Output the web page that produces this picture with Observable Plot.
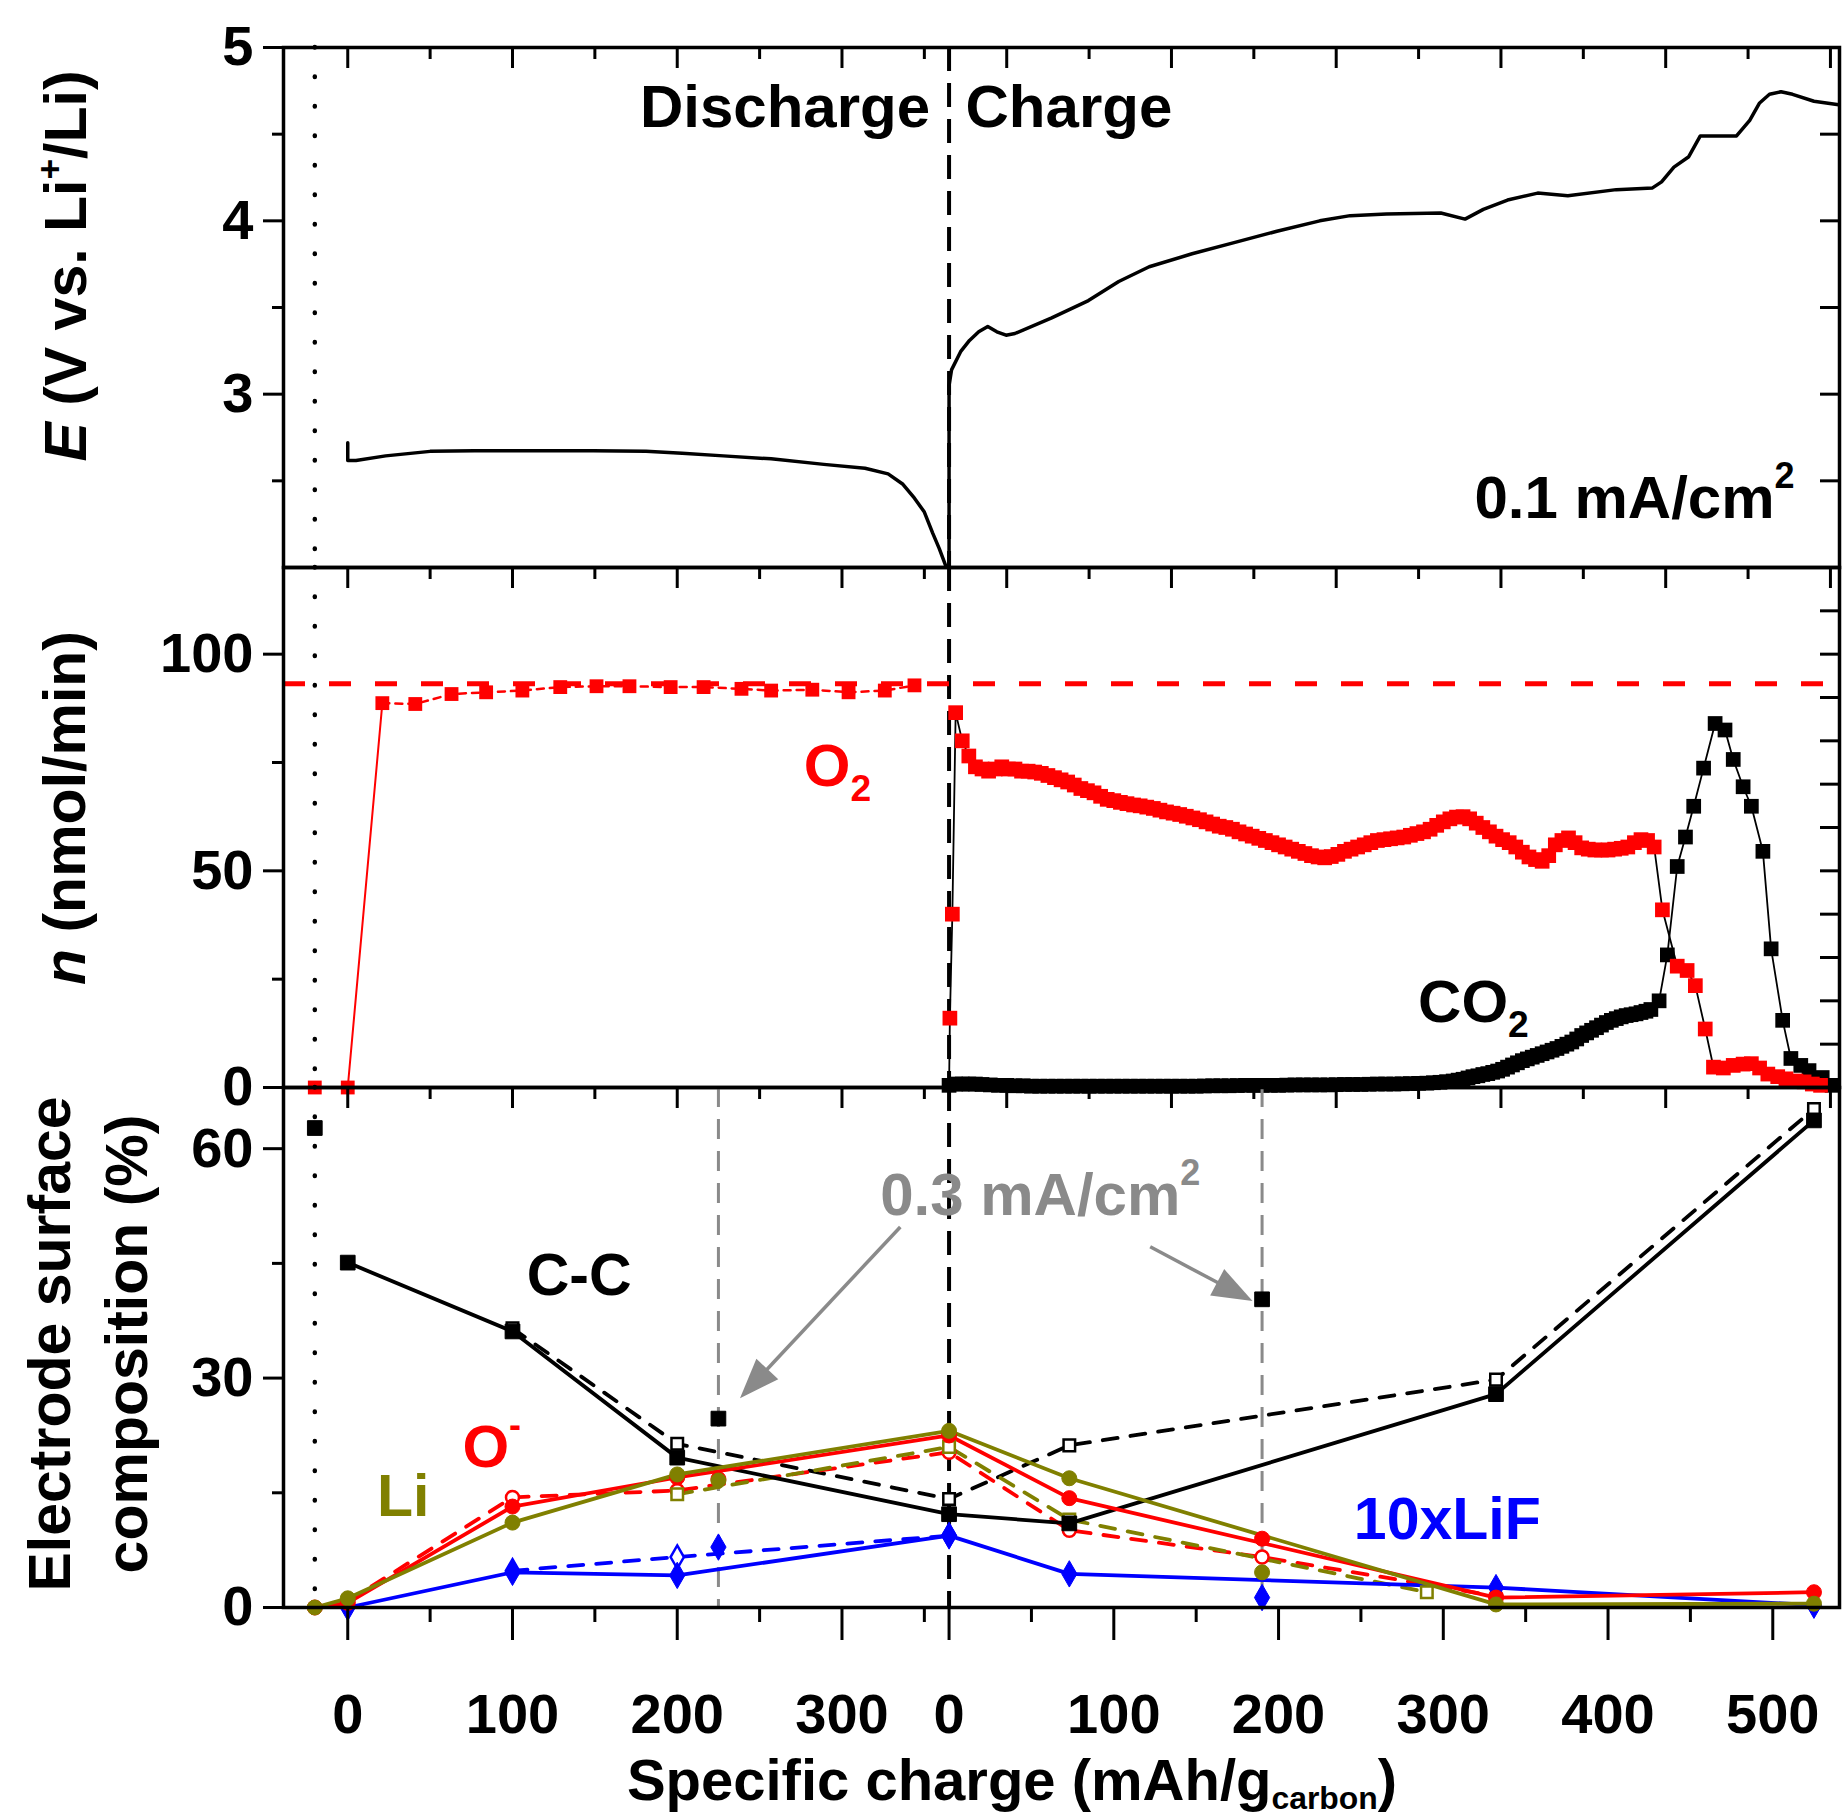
<!DOCTYPE html>
<html>
<head>
<meta charset="utf-8">
<script src="https://cdn.jsdelivr.net/npm/d3@7"></script>
<script src="https://cdn.jsdelivr.net/npm/@observablehq/plot@0.6"></script>
<style>
  html, body { margin: 0; padding: 0; background: #fff; overflow: hidden; }
  #chart { position: relative; width: 1845px; height: 1818px; }
  #chart svg { position: absolute; left: 0; top: 0; overflow: visible; max-width: none; }
</style>
</head>
<body>
<div id="chart"></div>
<script>
// ---------------- data ----------------
const CHARGE_OFFSET = 365;      // discharge capacity at which the charge axis restarts at 0
const PRISTINE_X = -20;         // position of the pristine electrode
const RATE_03_X = [225, 555];   // 0.3 mA/cm2 samples (discharge 225, charge 190)

// Potential, discharge [q, E]
const voltageDischarge = [[0,2.72],[0,2.617],[5,2.617],[23,2.644],[50,2.67],[77,2.674],[149,2.674],[181,2.67],[203,2.659],[228,2.644],[257,2.627],[289,2.595],[314,2.573],[328,2.54],[337,2.48],[344,2.40],[350,2.32],[355,2.20],[359,2.11],[363,2.01],[364.5,2.0]];
// Potential, charge [q, E]
const voltageCharge = [[0,2.0],[0,3.05],[1.5,3.14],[7,3.245],[12.4,3.31],[18,3.36],[23.5,3.39],[29,3.36],[34.6,3.34],[40,3.35],[62.3,3.44],[84.6,3.54],[103,3.65],[121.5,3.735],[147.5,3.81],[173,3.874],[199,3.94],[225,4.0],[243.5,4.03],[265.5,4.04],[298.5,4.045],[313.2,4.01],[324.3,4.066],[339,4.12],[357.3,4.16],[375.6,4.145],[405,4.18],[427,4.19],[432.5,4.225],[440,4.31],[449,4.37],[456,4.49],[478,4.49],[486,4.58],[492,4.68],[498,4.73],[505,4.745],[512,4.73],[525,4.69],[540,4.67]];

// O2 consumption during discharge [q, n]
const o2Discharge = [[-20,0],[0,0],[21,88.7],[41,88.5],[63,90.8],[84,91.2],[106,91.6],[129,92.4],[151,92.6],[171,92.6],[196,92.4],[216,92.4],[239,92.0],[257,91.6],[282,91.8],[304,91.2],[326,91.6],[344,92.8]];
const o2Reference = [93.2];
// O2 evolution during charge [q, n]
const o2Charge = [[0,0],[0.5,16],[2,40],[4,86.5],[8,80],[12,76.5],[16,74],[20,73.5],[24,73],[28,73.5],[32,74],[36,73.5],[40,73.5],[44,73],[48,73],[52,72.8],[56,72.5],[60,72],[64,71.5],[68,71],[72,70.5],[76,69.8],[80,69],[84,68.5],[88,68],[92,67.2],[96,66.5],[100,66.2],[104,65.8],[108,65.5],[112,65.2],[116,65],[120,64.7],[124,64.4],[128,64],[132,63.6],[136,63.3],[140,63],[144,62.6],[148,62.2],[152,61.8],[156,61.3],[160,60.8],[164,60.3],[168,60],[172,59.6],[176,59],[180,58.5],[184,58],[188,57.5],[192,57],[196,56.5],[200,56],[204,55.5],[208,55],[212,54.5],[216,54],[220,53.5],[224,53.2],[228,53],[232,53.3],[236,53.8],[240,54.5],[244,55],[248,55.5],[252,56],[256,56.5],[260,57],[264,57.2],[268,57.4],[272,57.6],[276,57.8],[280,58.2],[284,58.6],[288,59],[292,59.6],[296,60.5],[300,61.3],[304,62],[308,62.4],[312,62.5],[316,62],[320,61],[324,60],[328,59],[332,58],[336,57.2],[340,56.5],[344,55.5],[348,54.3],[352,53.2],[356,52.6],[360,52.2],[364,53.5],[368,56],[372,57],[376,57.6],[380,56.5],[384,55.3],[388,55],[392,54.8],[396,54.8],[400,54.8],[404,55],[408,55.2],[412,55.5],[416,56.5],[420,57.2],[424,57],[428,55.5],[433,41],[442,28],[448,27],[453,23.5],[459,13.5],[464,4.7],[470,4.5],[476,5.1],[482,5.4],[487,5.5],[492,4.5],[497,3.1],[503,2.5],[508,2],[514,1.5],[519,1.3],[524,0.8],[529,0.5]];
// CO2 evolution during charge [q, n]
const co2Charge = [[0,0.5],[4,0.8],[8,0.8],[12,0.8],[16,0.8],[20,0.7],[25,0.6],[30,0.5],[35,0.5],[40,0.4],[45,0.4],[50,0.3],[55,0.3],[60,0.3],[65,0.3],[70,0.3],[75,0.3],[80,0.3],[85,0.3],[90,0.3],[95,0.3],[100,0.3],[105,0.3],[110,0.3],[115,0.3],[120,0.3],[125,0.3],[130,0.3],[135,0.3],[140,0.3],[145,0.3],[150,0.3],[155,0.35],[160,0.4],[165,0.4],[170,0.4],[175,0.45],[180,0.5],[185,0.5],[190,0.5],[195,0.5],[200,0.5],[205,0.55],[210,0.6],[215,0.6],[220,0.6],[225,0.6],[230,0.6],[235,0.65],[240,0.7],[245,0.7],[250,0.7],[255,0.75],[260,0.8],[265,0.8],[270,0.8],[275,0.85],[280,0.9],[285,0.95],[290,1.0],[294,1.1],[298,1.2],[302,1.35],[306,1.5],[309,1.7],[312,1.9],[315,2.2],[318,2.5],[321,2.7],[324,3.0],[327,3.2],[330,3.5],[333,3.8],[336,4.2],[339,4.7],[342,5.2],[345,5.7],[348,6.2],[351,6.6],[354,7.0],[357,7.4],[360,7.8],[363,8.2],[366,8.6],[369,9.0],[372,9.5],[375,10.0],[378,10.5],[381,11.2],[384,12],[387,12.6],[390,13.2],[393,13.8],[396,14.4],[399,15.0],[402,15.5],[405,15.9],[408,16.3],[411,16.6],[414,16.8],[417,17.0],[420,17.3],[423,17.6],[426,18],[431,20],[436,30.6],[442,51],[447,57.8],[452,64.9],[458,73.7],[465,84],[471,82.5],[476,75.7],[482,69.4],[487,64.9],[494,54.5],[499,32],[506,15.5],[511,6.7],[517,5.1],[522,3.9],[530,2.3],[536,0.5]];

// XPS surface composition: [phase ("D" discharge / "C" charge), q, %]
const ccPristine = [["D",-20,62.7]];
const ccSolid  = [["D",0,45.1],["D",100,36.1],["D",200,19.6],["C",0,12.2],["C",73,11.0],["C",332,27.9],["C",525,63.7]];
const ccOpen   = [["D",100,36.5],["D",200,21.4],["C",0,14.2],["C",73,21.2],["C",332,29.8],["C",525,65.2]];
const cc03     = [["D",225,24.7],["C",190,40.3]];
const oSolid   = [["D",-20,0],["D",0,0.6],["D",100,13.2],["D",200,17.0],["C",0,22.5],["C",73,14.3],["C",332,1.3],["C",525,2.0]];
const oOpen    = [["D",0,0.8],["D",100,14.4],["D",200,15.3],["C",0,20.3],["C",73,10.1],["C",190,6.6],["C",332,1.5]];
const o03      = [["D",225,16.8],["C",190,9.0]];
const liSolid  = [["D",-20,0],["D",0,1.2],["D",100,11.1],["D",200,17.4],["C",0,23.1],["C",73,16.9],["C",332,0.4],["C",525,0.5]];
const liOpen   = [["D",200,14.8],["C",0,21.0],["C",73,11.5],["C",290,2.0]];
const li03     = [["D",225,16.6],["C",190,4.6]];
const lifSolid = [["D",0,0],["D",100,4.6],["D",200,4.2],["C",0,9.4],["C",73,4.4],["C",332,2.6],["C",525,0.3]];
const lifOpen  = [["D",100,4.8],["D",200,6.6],["C",0,9.4]];
const lif03    = [["D",225,7.9],["C",190,1.3]];

// ticks / tick labels
const dischargeMajor = [0,100,200,300];
const dischargeMinor = [50,150,250,350];
const chargeMajor = [0,100,200,300,400,500];
const chargeMinor = [50,150,250,350,450];
const topMajor = [0,100,200,300,400,500,600,700,800,900];
const topMinor = [50,150,250,350,450,550,650,750,850];
const vMajor = [3,4,5], vMinor = [2.5,3.5,4.5], vRight = [2.5,3,3.5,4,4.5];
const nMajor = [0,50,100], nMinor = [25,75], nRight = [10,20,30,40,50,60,70,80,90,100,110];
const pMajor = [0,30,60], pMinor = [15,45];

// annotations (data coordinates; x is the combined axis)
const arrows = [{x1:335.7,y1:49.7,x2:238.4,y2:27.3},{x1:487.4,y1:47.1,x2:549.5,y2:40.0}];

// ---------------- layout ----------------
const FONT = "'Liberation Sans', Arial, Helvetica, sans-serif";
const W = 1845, H = 1818, ML = 283, MR = 6;
const X_DOMAIN = [-39, 905.5];
const PANELS = {voltage:[47,567], gas:[567,1087], xps:[1087,1607]};
const RED = "#ff0000", OLIVE = "#808000", BLUE = "#0000ff", GRAY = "#8a8a8a";

const xc = q => q + CHARGE_OFFSET;
const xp = d => d[0] === "D" ? d[1] : d[1] + CHARGE_OFFSET;

function frameOpts(panel, y) {
  return {
    width: W, height: H, marginLeft: ML, marginRight: MR,
    marginTop: panel[0], marginBottom: H - panel[1],
    x: {domain: X_DOMAIN}, y,
    style: {fontFamily: FONT, fontSize: "56px", fontWeight: "bold", background: "transparent", overflow: "visible", color: "black"}
  };
}
const noText = () => "";
function commonMarks() {
  return [
    Plot.ruleX([PRISTINE_X], {stroke: "black", strokeWidth: 4.5, strokeDasharray: "0.5,29", strokeLinecap: "round"}),
    Plot.ruleX([CHARGE_OFFSET], {stroke: "black", strokeWidth: 4, strokeDasharray: "24,12"}),
    Plot.axisX({anchor: "top", ticks: topMajor, tickSize: -20, strokeWidth: 3, tickFormat: noText, label: null}),
    Plot.axisX({anchor: "top", ticks: topMinor, tickSize: -11, strokeWidth: 3, tickFormat: noText, label: null})
  ];
}
function leftAxis(major, minor) {
  return [
    Plot.axisY({anchor: "left", ticks: major, tickSize: 20, tickPadding: 10, strokeWidth: 3, label: null, fontSize: 56, tickFormat: d => String(d)}),
    Plot.axisY({anchor: "left", ticks: minor, tickSize: 11, strokeWidth: 3, tickFormat: noText, label: null})
  ];
}

// ---------------- panel 1: potential ----------------
const p1 = Plot.plot({
  ...frameOpts(PANELS.voltage, {domain: [2, 5]}),
  marks: [
    ...commonMarks(),
    Plot.line(voltageDischarge, {x: d => d[0], y: d => d[1], stroke: "black", strokeWidth: 3.5}),
    Plot.line(voltageCharge, {x: d => xc(d[0]), y: d => d[1], stroke: "black", strokeWidth: 3.5}),
    Plot.text(["Discharge"], {x: 353.5, y: 4.54, text: d => d, textAnchor: "end", lineAnchor: "bottom", fontSize: 60, fontWeight: "bold"}),
    Plot.text(["Charge"], {x: 375, y: 4.54, text: d => d, textAnchor: "start", lineAnchor: "bottom", fontSize: 60, fontWeight: "bold"}),
    ...leftAxis(vMajor, vMinor),
    Plot.axisY({anchor: "right", ticks: vRight, tickSize: -20, strokeWidth: 3, tickFormat: noText, label: null}),
    Plot.frame({stroke: "black", strokeWidth: 3.5})
  ]
});

// ---------------- panel 2: gas evolution ----------------
const p2 = Plot.plot({
  ...frameOpts(PANELS.gas, {domain: [0, 120]}),
  marks: [
    ...commonMarks(),
    Plot.ruleY(o2Reference, {stroke: RED, strokeWidth: 5, strokeDasharray: "22,24"}),
    Plot.line(o2Discharge.slice(1, 3), {x: d => d[0], y: d => d[1], stroke: RED, strokeWidth: 2}),
    Plot.line(o2Discharge.slice(2), {x: d => d[0], y: d => d[1], stroke: RED, strokeWidth: 2.5, strokeDasharray: "7,6"}),
    Plot.dot(o2Discharge, {x: d => d[0], y: d => d[1], symbol: "square", r: 7.8, fill: RED}),
    Plot.line(o2Charge, {x: d => xc(d[0]), y: d => d[1], stroke: "black", strokeWidth: 1.8}),
    Plot.line(co2Charge, {x: d => xc(d[0]), y: d => d[1], stroke: "black", strokeWidth: 1.8}),
    Plot.dot(co2Charge, {x: d => xc(d[0]), y: d => d[1], symbol: "square", r: 8.3, fill: "black"}),
    Plot.dot(o2Charge.slice(1), {x: d => xc(d[0]), y: d => d[1], symbol: "square", r: 8.3, fill: RED}),
    ...leftAxis(nMajor, nMinor),
    Plot.axisY({anchor: "right", ticks: nRight, tickSize: -20, strokeWidth: 3, tickFormat: noText, label: null}),
    Plot.frame({stroke: "black", strokeWidth: 3.5})
  ]
});

// ---------------- panel 3: XPS ----------------
function xLine(data, color, dashed) {
  const o = {x: xp, y: d => d[2], stroke: color, strokeWidth: 3.8};
  if (dashed) o.strokeDasharray = "15,13";
  return Plot.line(data, o);
}
function xDot(data, symbol, color, open, r) {
  return Plot.dot(data, {x: xp, y: d => d[2], symbol, r, fill: open ? "white" : color, stroke: color, strokeWidth: open ? 2.5 : 1});
}
const bottomMajor = dischargeMajor.concat(chargeMajor.map(xc));
const bottomMinor = dischargeMinor.concat(chargeMinor.map(xc));
const p3 = Plot.plot({
  ...frameOpts(PANELS.xps, {domain: [0, 68]}),
  marks: [
    Plot.ruleX(RATE_03_X, {stroke: GRAY, strokeWidth: 3, strokeDasharray: "20,12"}),
    ...commonMarks(),
    xLine(ccOpen, "black", true), xLine(oOpen, RED, true), xLine(liOpen, OLIVE, true), xLine(lifOpen, BLUE, true),
    xLine(lifSolid, BLUE, false), xLine(ccSolid, "black", false), xLine(oSolid, RED, false), xLine(liSolid, OLIVE, false),
    xDot(lifOpen, "diamond", BLUE, true, 7), xDot(ccOpen, "square", "black", true, 6.5),
    xDot(oOpen, "circle", RED, true, 6.5), xDot(liOpen, "square", OLIVE, true, 6.5),
    xDot(lifSolid, "diamond", BLUE, false, 8), xDot(ccSolid, "square", "black", false, 8.3),
    xDot(oSolid, "circle", RED, false, 7.5), xDot(liSolid, "circle", OLIVE, false, 7.5),
    xDot(ccPristine, "square", "black", false, 8.3),
    xDot(lif03, "diamond", BLUE, false, 8), xDot(o03, "circle", RED, false, 7.5),
    xDot(li03, "circle", OLIVE, false, 7.5), xDot(cc03, "square", "black", false, 8.3),
    Plot.text(["C-C"], {x: 108.6, y: 40.9, text: d => d, textAnchor: "start", lineAnchor: "bottom", fontSize: 59, fontWeight: "bold", fill: "black"}),
    Plot.text(["Li"], {x: 17.8, y: 12.0, text: d => d, textAnchor: "start", lineAnchor: "bottom", fontSize: 59, fontWeight: "bold", fill: OLIVE}),
    Plot.text(["10xLiF"], {x: 610.7, y: 9.0, text: d => d, textAnchor: "start", lineAnchor: "bottom", fontSize: 59, fontWeight: "bold", fill: BLUE}),
    ...leftAxis(pMajor, pMinor),
    Plot.axisX({anchor: "bottom", ticks: bottomMajor, tickSize: 33, tickPadding: 53, strokeWidth: 3, label: null, fontSize: 56,
      tickFormat: d => String(d >= CHARGE_OFFSET ? d - CHARGE_OFFSET : d)}),
    Plot.axisX({anchor: "bottom", ticks: bottomMinor, tickSize: 15, strokeWidth: 3, tickFormat: noText, label: null}),
    Plot.frame({stroke: "black", strokeWidth: 3.5})
  ]
});

const chart = document.getElementById("chart");
chart.append(p1, p2, p3);

// ---------------- rich text (sub/superscripts) ----------------
function richText(svg, x, y, parts, o = {}) {
  const size = o.size ?? 59;
  const t = d3.select(svg).append("text")
    .attr("transform", `translate(${x},${y})` + (o.rotate ? ` rotate(${o.rotate})` : ""))
    .attr("font-family", FONT).attr("font-weight", "bold").attr("font-size", size)
    .attr("fill", o.fill ?? "black").attr("text-anchor", o.anchor ?? "start");
  let cur = 0;
  for (const p of parts) {
    const ts = t.append("tspan").text(p.t);
    const target = p.shift ?? 0;
    if (target !== cur) ts.attr("dy", target - cur);
    cur = target;
    if (p.scale) ts.attr("font-size", size * p.scale);
    if (p.italic) ts.attr("font-style", "italic");
  }
  return t;
}
const s1x = p1.scale("x"), s1y = p1.scale("y");
const s2x = p2.scale("x"), s2y = p2.scale("y");
const s3x = p3.scale("x"), s3y = p3.scale("y");

richText(p1, s1x.apply(684.2), s1y.apply(2.284), [{t: "0.1 mA/cm"}, {t: "2", shift: -30, scale: 0.6}], {size: 60});
richText(p2, s2x.apply(277.1), s2y.apply(69.5), [{t: "O"}, {t: "2", shift: 15, scale: 0.62}], {size: 60, fill: RED});
richText(p2, s2x.apply(650), s2y.apply(15.1), [{t: "CO"}, {t: "2", shift: 15, scale: 0.62}], {size: 60});
richText(p3, s3x.apply(69.9), s3y.apply(18.3), [{t: "O"}, {t: "-", shift: -30, scale: 0.6}], {size: 60, fill: RED});
richText(p3, s3x.apply(323.5), s3y.apply(51.3), [{t: "0.3 mA/cm"}, {t: "2", shift: -30, scale: 0.6}], {size: 60, fill: GRAY});

// arrows
for (const a of arrows) {
  const x1 = s3x.apply(a.x1), y1 = s3y.apply(a.y1), x2 = s3x.apply(a.x2), y2 = s3y.apply(a.y2);
  const L = Math.hypot(x2 - x1, y2 - y1), ux = (x2 - x1) / L, uy = (y2 - y1) / L;
  const hl = 40, hw = 15, bx = x2 - ux * hl, by = y2 - uy * hl;
  const g = d3.select(p3).append("g");
  g.append("line").attr("x1", x1).attr("y1", y1).attr("x2", bx + ux * 2).attr("y2", by + uy * 2)
    .attr("stroke", GRAY).attr("stroke-width", 3.5);
  g.append("polygon").attr("points", `${x2},${y2} ${bx - uy * hw},${by + ux * hw} ${bx + uy * hw},${by - ux * hw}`)
    .attr("fill", GRAY);
}

// axis titles
richText(p1, 86, 266, [{t: "E", italic: true}, {t: " (V vs. Li"}, {t: "+", shift: -24, scale: 0.6}, {t: "/Li)"}], {size: 59, rotate: -90, anchor: "middle"});
richText(p2, 85, 808, [{t: "n", italic: true}, {t: " (nmol/min)"}], {size: 59, rotate: -90, anchor: "middle"});
richText(p3, 70, 1344, [{t: "Electrode surface"}], {size: 59, rotate: -90, anchor: "middle"});
richText(p3, 147, 1344, [{t: "composition (%)"}], {size: 59, rotate: -90, anchor: "middle"});
richText(p3, 1012, 1800, [{t: "Specific charge (mAh/g"}, {t: "carbon", shift: 9, scale: 0.55}, {t: ")"}], {size: 58, anchor: "middle"});
</script>
</body>
</html>
